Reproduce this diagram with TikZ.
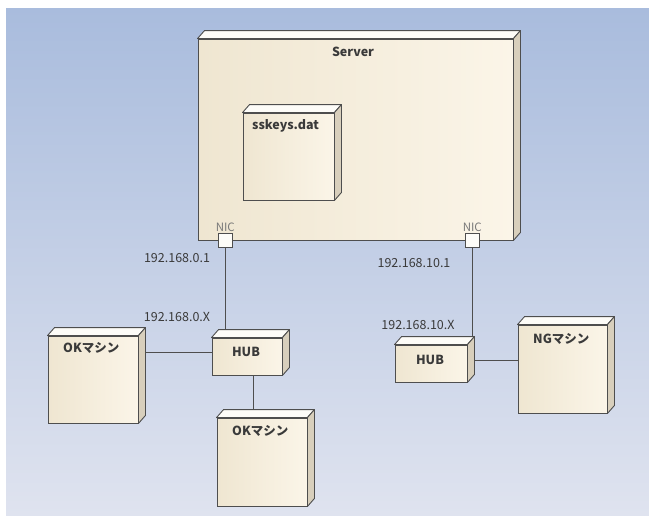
\documentclass[tikz,border=0pt]{standalone}
\usepackage{fontspec}
\setmainfont{Noto Sans CJK JP}
\usetikzlibrary{calc}
\definecolor{bgtop}{HTML}{A9BCDD}
\definecolor{bgbot}{HTML}{DFE3EF}
\definecolor{frontL}{HTML}{EFE6D1}
\definecolor{frontR}{HTML}{FBF5E8}
\definecolor{topface}{HTML}{FDFCF8}
\definecolor{sideface}{HTML}{D8CFBC}
\definecolor{edge}{HTML}{4E4E4E}
\definecolor{txt}{HTML}{3A3A3A}
\definecolor{niclbl}{HTML}{7A7A7A}
\tikzset{
  devbox/.style={draw=edge, line width=0.9pt, left color=frontL, right color=frontR, inner sep=0pt},
  nicport/.style={draw=edge, line width=0.8pt, fill=topface, minimum size=14pt, inner sep=0pt},
  wire/.style={draw=edge, line width=0.9pt},
  boldlbl/.style={font=\fontsize{12.5}{14}\selectfont\bfseries, text=txt, inner sep=0pt},
  iplbl/.style={font=\fontsize{12.5}{14}\selectfont, text=txt, inner sep=0pt},
  nictxt/.style={font=\fontsize{11.5}{13}\selectfont, text=niclbl, inner sep=0pt}
}
\newcommand{\boxfaces}[1]{%
  \filldraw[draw=edge, line width=0.9pt, fill=topface, line join=round]
    (#1.north west) -- ($(#1.north west)+(7,-8)$) -- ($(#1.north east)+(7,-8)$) -- (#1.north east) -- cycle;
  \filldraw[draw=edge, line width=0.9pt, fill=sideface, line join=round]
    (#1.north east) -- ($(#1.north east)+(7,-8)$) -- ($(#1.south east)+(7,-8)$) -- (#1.south east) -- cycle;
}
\begin{document}
\begin{tikzpicture}[x=1pt,y=-1pt]
\useasboundingbox (0,0) rectangle (649,517);
\fill[white] (0,0) rectangle (649,517);
\shade[top color=bgtop, bottom color=bgbot] (6,8) rectangle (649,515);

% nodes (front faces)
\node[devbox, minimum width=315pt, minimum height=201pt] (server) at (355.5,139.5) {};
\boxfaces{server}
\node[devbox, minimum width=91pt, minimum height=87pt] (sskeys) at (288.5,156.5) {};
\boxfaces{sskeys}
\node[nicport] (nicL) at (225,240) {};
\node[nicport] (nicR) at (472,240) {};

% connectors (drawn before the lower boxes so their faces cover the ends)
\coordinate (hubLtop) at (247,331);
\coordinate (hubRtop) at (431,338);
\draw[wire] (nicL.south) -- (nicL.south |- hubLtop);
\draw[wire] (nicR.south) -- (nicR.south |- hubRtop);

\node[devbox, minimum width=70pt, minimum height=37pt] (hubL) at (247,356.5) {};
\node[devbox, minimum width=90pt, minimum height=87pt] (okL) at (93,379.5) {};
\node[devbox, minimum width=90pt, minimum height=88pt] (okB) at (262,462) {};
\node[devbox, minimum width=72pt, minimum height=37pt] (hubR) at (431,363.5) {};
\node[devbox, minimum width=89pt, minimum height=88pt] (ng) at (562.5,369) {};

\draw[wire] ([yshift=4pt]hubL.west) -- ([yshift=4pt]hubL.west -| okL.east);
\draw[wire] ([xshift=6pt]hubL.south) -- ([xshift=6pt]hubL.south |- okB.north);
\draw[wire] ([yshift=3pt]hubR.east) -- ([yshift=3pt]hubR.east -| ng.west);

\boxfaces{hubL}
\boxfaces{okL}
\boxfaces{okB}
\boxfaces{hubR}
\boxfaces{ng}

% labels
\node[boldlbl] (serverlbl) at (353,52) {Server};
\node[boldlbl, anchor=west] (sskeyslbl) at (252,126) {sskeys.dat};
\node[boldlbl] (hubLlbl) at (246,352) {HUB};
\node[boldlbl] (hubRlbl) at (430,360) {HUB};
\node[boldlbl, anchor=west] (okLlbl) at (63,348) {OKマシン};
\node[boldlbl, anchor=west] (okBlbl) at (232,431) {OKマシン};
\node[boldlbl, anchor=west] (nglbl) at (533,339) {NGマシン};

\node[nictxt, anchor=south west] (nicLlbl) at ([xshift=-2pt,yshift=1pt]nicL.north west) {NIC};
\node[nictxt, anchor=south west] (nicRlbl) at ([xshift=-2pt,yshift=1pt]nicR.north west) {NIC};

\node[iplbl] (ip1) at (177,258) {192.168.0.1};
\node[iplbl] (ip2) at (177,317) {192.168.0.X};
\node[iplbl] (ip3) at (414,263) {192.168.10.1};
\node[iplbl] (ip4) at (418,325) {192.168.10.X};
\end{tikzpicture}
\end{document}
